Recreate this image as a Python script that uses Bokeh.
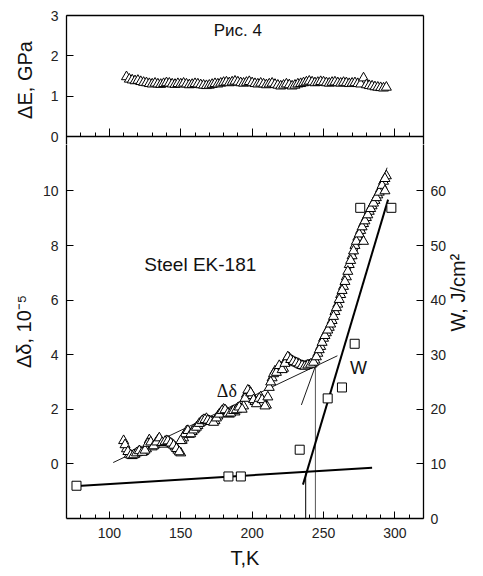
import math
from bokeh.plotting import figure
from bokeh.layouts import column
from bokeh.models import Range1d, LinearAxis, FixedTicker, Label
from bokeh.embed import file_html
from bokeh.resources import INLINE

FONT = "Liberation Sans"

# ---------------- data ----------------
x_major = [100, 150, 200, 250, 300]
x_minor = [80, 90, 110, 120, 130, 140, 160, 170, 180, 190, 210, 220, 230, 240,
           260, 270, 280, 290, 310]
top_y_ticks = [0, 1, 2, 3]
left_y_ticks = [0, 2, 4, 6, 8, 10]
right_y_ticks = [0, 10, 20, 30, 40, 50, 60]

# Top panel: Delta E (GPa) vs T
dE_T = [112, 114, 116, 118, 120, 122, 124, 126, 128, 130, 132, 134, 136, 138, 140,
        142, 144, 146, 148, 150, 152, 154, 156, 158, 160, 162, 164, 166, 168, 170,
        172, 174, 176, 178, 180, 182, 184, 186, 188, 190, 192, 194, 196, 198, 200,
        202, 204, 206, 208, 210, 212, 214, 216, 218, 220, 222, 224, 226, 228, 230,
        232, 234, 236, 238, 240, 242, 244, 246, 248, 250, 252, 254, 256, 258, 260,
        262, 264, 266, 268, 270, 272, 274, 276, 278, 280, 282, 284, 286, 288, 290,
        292, 294]
dE = [1.48, 1.42, 1.40, 1.38, 1.39, 1.36, 1.34, 1.33, 1.31, 1.30, 1.32, 1.30, 1.29, 1.31, 1.33,
      1.32, 1.30, 1.29, 1.31, 1.30, 1.32, 1.30, 1.28, 1.29, 1.31, 1.30, 1.28, 1.27, 1.26, 1.27,
      1.29, 1.31, 1.30, 1.32, 1.34, 1.35, 1.33, 1.35, 1.37, 1.35, 1.33, 1.32, 1.34, 1.36, 1.33,
      1.31, 1.30, 1.32, 1.30, 1.28, 1.30, 1.32, 1.29, 1.27, 1.25, 1.27, 1.30, 1.28, 1.25, 1.27,
      1.30, 1.31, 1.33, 1.35, 1.37, 1.35, 1.33, 1.34, 1.36, 1.35, 1.33, 1.32, 1.34, 1.35, 1.33,
      1.32, 1.34, 1.33, 1.31, 1.32, 1.33, 1.31, 1.30, 1.45, 1.28, 1.26, 1.25, 1.23, 1.22, 1.21,
      1.20, 1.22]

# Bottom panel: Delta delta (1e-5) vs T
dd_T_a = [110, 112, 114, 116, 118, 120, 122, 124, 126, 128, 130, 132, 134, 136, 138,
          140, 142, 144, 146, 148, 150, 152, 154, 156, 158, 160, 162, 164, 166, 168,
          170, 172, 174, 176, 178, 180, 182, 184, 186, 188, 190, 192, 194, 196, 198,
          200, 202, 204, 206, 208, 210, 212, 214, 216, 218, 220, 222, 224, 226, 228,
          230, 232, 234, 236, 238, 240, 242, 244, 246, 248, 250, 252, 254, 256, 258,
          260, 262, 264, 266, 268, 270, 272, 274, 276, 278, 280, 282, 284, 286, 288,
          290, 292, 294]
dd_a = [0.85, 0.55, 0.35, 0.30, 0.35, 0.42, 0.45, 0.45, 0.55, 0.88, 0.62, 0.70, 0.88, 0.84, 0.72,
        0.85, 0.80, 0.72, 0.62, 0.50, 0.40, 0.95, 1.20, 1.08, 1.18, 1.28, 1.40, 1.52, 1.62, 1.66,
        1.58, 1.55, 1.58, 1.75, 1.88, 2.00, 1.92, 1.82, 1.92, 1.90, 2.05, 2.02, 2.12, 2.55, 2.68,
        2.50, 2.28, 2.30, 2.45, 2.25, 2.15, 2.80, 3.15, 3.40, 3.45, 3.55, 3.50, 3.82, 3.88, 3.78,
        3.72, 3.68, 3.62, 3.58, 3.60, 3.63, 3.66, 3.80, 4.05, 4.30, 4.60, 4.80, 5.00, 5.25, 5.58,
        5.85, 6.20, 6.50, 6.85, 7.30, 7.62, 8.00, 8.30, 8.55, 8.80, 9.02, 9.25, 9.45, 9.65, 9.85,
        10.08, 10.35, 10.55]
dd_T_b = [111, 113, 115, 117, 119, 121, 123, 125, 127, 129, 131, 133, 135, 137, 139,
          141, 143, 145, 147, 149, 151, 153, 155, 157, 159, 161, 163, 165, 167, 169,
          171, 173, 175, 177, 179, 181, 183, 185, 187, 189, 191, 193, 195, 197, 199,
          201, 203, 205, 207, 209, 211, 213, 215, 217, 219, 221, 223, 225, 227, 229,
          231, 233, 235, 237, 239, 241, 243, 245, 247, 249, 251, 253, 255, 257, 259,
          261, 263, 265, 267, 269, 271, 273, 275, 277, 279, 281, 283, 285, 287, 289,
          291, 293, 278, 293, 150]
dd_b = [0.70, 0.45, 0.32, 0.33, 0.40, 0.48, 0.42, 0.50, 0.75, 0.80, 0.66, 0.80, 0.95, 0.78, 0.82,
        0.84, 0.76, 0.68, 0.56, 0.44, 0.86, 1.10, 1.22, 1.10, 1.24, 1.34, 1.48, 1.58, 1.62, 1.60,
        1.55, 1.52, 1.68, 1.82, 1.95, 1.98, 1.85, 1.86, 1.95, 1.98, 2.08, 2.00, 2.40, 2.70, 2.60,
        2.35, 2.20, 2.40, 2.35, 2.12, 2.45, 3.00, 3.30, 3.35, 3.60, 3.45, 3.68, 3.92, 3.82, 3.75,
        3.70, 3.65, 3.60, 3.58, 3.62, 3.65, 3.72, 3.92, 4.18, 4.45, 4.70, 4.90, 5.12, 5.40, 5.72,
        6.02, 6.35, 6.68, 7.05, 7.45, 7.80, 8.15, 8.42, 8.68, 8.90, 9.12, 9.35, 9.55, 9.75, 9.95,
        10.20, 10.45, 8.15, 10.00, 0.85]

# W (J/cm^2) squares, right axis
W_T = [77, 183.4, 192.1, 233.3, 252.9, 262.9, 271.8, 275.7, 297.5]
W = [6.0, 7.7, 7.7, 12.6, 22.0, 24.0, 32.0, 56.9, 56.9]

# fitted lines
W_low_T = [75, 284]          # lower-shelf W line
W_low = [5.9, 9.3]
W_up_T = [235.6, 295.2]      # steep W line
W_up = [6.2, 58.4]
dd_fit1_T = [102.7, 259.7]   # thin Delta delta fit, low-T branch
dd_fit1 = [0.05, 3.96]
dd_fit2_T = [234.5, 294.5]   # thin Delta delta fit, high-T branch
dd_fit2 = [2.16, 10.85]
vline1_T = [237.5, 237.5]    # W-based transition temperature
vline1_W = [0, 8.3]
vline2_T = [244.3, 244.3]    # Delta delta based transition temperature
vline2_W = [0, 28.3]

# ---------------- layout constants ----------------
W_PX = 483
LEFT, RIGHT = 66, 54
TOP_MARGIN = 15
TOP_FRAME_ZERO = 121      # px from top of frame to the E=0 line
GAP = 8                   # px of top figure below the E=0 line
BOT_FRAME = 374           # px of bottom frame
BOTTOM_MARGIN = 58
E_PX = TOP_FRAME_ZERO / 3.0       # px per GPa
D_PX = 27.3                       # px per 1e-5


def style_axis(ax, label_size="14px"):
    ax.major_tick_in = 7
    ax.major_tick_out = 0
    ax.minor_tick_in = 4
    ax.minor_tick_out = 0
    ax.axis_line_color = "black"
    ax.axis_line_width = 1.3
    ax.major_tick_line_color = "black"
    ax.minor_tick_line_color = "black"
    ax.major_label_text_font = FONT
    ax.major_label_text_font_size = label_size
    ax.major_label_text_color = "#222222"
    ax.axis_label_text_font = FONT
    ax.axis_label_text_font_size = "20px"
    ax.axis_label_text_font_style = "normal"
    ax.axis_label_text_color = "#111111"


def bare_axis(ax):
    ax.ticker = FixedTicker(ticks=[], minor_ticks=[])
    ax.axis_line_color = "black"
    ax.axis_line_width = 1.3
    ax.major_tick_line_color = None
    ax.minor_tick_line_color = None
    ax.major_label_text_color = None


# ---------------- top panel ----------------
top = figure(width=W_PX, height=TOP_MARGIN + TOP_FRAME_ZERO + GAP,
             x_range=Range1d(70, 320), y_range=Range1d(-GAP / E_PX, 3),
             output_backend="svg", toolbar_location=None,
             min_border_left=LEFT, min_border_right=RIGHT,
             min_border_top=TOP_MARGIN, min_border_bottom=0)
top.grid.visible = False
top.outline_line_color = None
top.background_fill_color = "white"
top.border_fill_color = "white"

tx = top.xaxis[0]
tx.ticker = FixedTicker(ticks=x_major, minor_ticks=x_minor)
style_axis(tx)
tx.fixed_location = 0
tx.major_tick_in = 8
tx.major_label_text_color = None

ty = top.yaxis[0]
ty.ticker = FixedTicker(ticks=top_y_ticks, minor_ticks=[])
style_axis(ty)
ty.major_label_standoff = 8
ty.axis_label = "ΔE, GPa"
ty.axis_label_standoff = 12

t_right = LinearAxis()
bare_axis(t_right)
top.add_layout(t_right, "right")
t_above = LinearAxis()
bare_axis(t_above)
top.add_layout(t_above, "above")

top.scatter(dE_T, dE, marker="triangle", size=10, fill_color="white",
            line_color="black", line_width=1)
top.add_layout(Label(x=190, y=2.63, text="Рис. 4", text_font=FONT, text_font_size="17px",
                     text_align="center", text_baseline="middle", text_color="#111111"))

# ---------------- bottom panel ----------------
bot = figure(width=W_PX, height=BOT_FRAME + BOTTOM_MARGIN,
             x_range=Range1d(70, 320), y_range=Range1d(-2, -2 + BOT_FRAME / D_PX),
             output_backend="svg", toolbar_location=None,
             min_border_left=LEFT, min_border_right=RIGHT, min_border_top=0,
             min_border_bottom=BOTTOM_MARGIN)
bot.extra_y_ranges = {"W": Range1d(0, BOT_FRAME / (D_PX / 5.0))}
bot.grid.visible = False
bot.outline_line_color = None
bot.background_fill_color = "white"
bot.border_fill_color = "white"

bx = bot.xaxis[0]
bx.ticker = FixedTicker(ticks=x_major, minor_ticks=x_minor)
style_axis(bx)
bx.major_label_standoff = 9
bx.axis_label = "T,K"
bx.axis_label_standoff = 6

by = bot.yaxis[0]
by.ticker = FixedTicker(ticks=left_y_ticks, minor_ticks=[])
style_axis(by)
by.major_label_standoff = 8
by.axis_label = "Δδ, 10⁻⁵"
by.axis_label_standoff = 5

rax = LinearAxis(y_range_name="W", ticker=FixedTicker(ticks=right_y_ticks, minor_ticks=[]),
                 axis_label="W, J/cm²")
style_axis(rax)
rax.major_label_standoff = 7
rax.axis_label_standoff = 9
rax.axis_label_orientation = math.pi / 2
bot.add_layout(rax, "right")

# thin fits behind the data
bot.line(dd_fit1_T, dd_fit1, line_color="black", line_width=0.9)
bot.line(dd_fit2_T, dd_fit2, line_color="black", line_width=0.9)
# vertical transition lines
bot.line(vline1_T, vline1_W, y_range_name="W", line_color="black", line_width=1)
bot.line(vline2_T, vline2_W, y_range_name="W", line_color="#555555", line_width=1)

bot.scatter(dd_T_a + dd_T_b, dd_a + dd_b, marker="triangle", size=10, fill_color="white",
            line_color="black", line_width=1)

# W fits (thick)
bot.line(W_low_T, W_low, y_range_name="W", line_color="black", line_width=2)
bot.line(W_up_T, W_up, y_range_name="W", line_color="black", line_width=2)
bot.scatter(W_T, W, y_range_name="W", marker="square", size=9, fill_color="white",
            line_color="black", line_width=1)

bot.add_layout(Label(x=124.5, y=7.29, text="Steel EK-181", text_font=FONT, text_font_size="19px",
                     text_align="left", text_baseline="middle", text_color="#111111"))
bot.add_layout(Label(x=182.3, y=2.67, text="Δδ", text_font="Liberation Serif",
                     text_font_size="18px", text_align="center", text_baseline="middle",
                     text_color="#111111"))
bot.add_layout(Label(x=274.4, y=3.52, text="W", text_font=FONT, text_font_size="18px",
                     text_align="center", text_baseline="middle", text_color="#111111"))

layout = column(top, bot, spacing=0)
open("out.html", "w").write(file_html(layout, INLINE))
